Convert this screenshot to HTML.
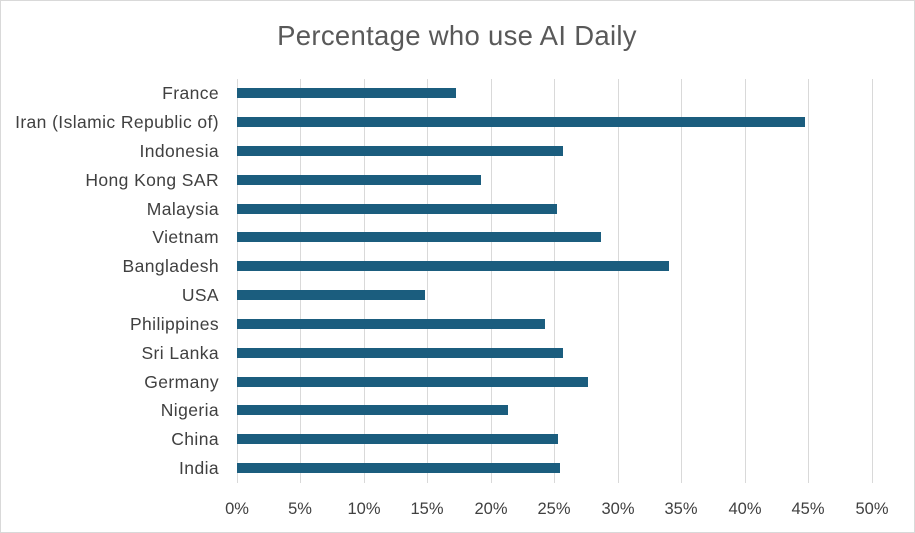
<!DOCTYPE html>
<html><head><style>
body{margin:0;background:#fff;}
svg{display:block;font-family:"Liberation Sans",Arial,sans-serif;}
</style></head><body>
<svg width="915" height="533" viewBox="0 0 915 533">
<rect x="0.5" y="0.5" width="914" height="532" fill="#fff" stroke="#d9d9d9"/>
<text x="457" y="45" text-anchor="middle" font-size="27.5" fill="#595959" letter-spacing="0.3">Percentage who use AI Daily</text>
<g stroke="#d9d9d9" stroke-width="1">
<line x1="300.5" y1="79" x2="300.5" y2="483"/>
<line x1="364.5" y1="79" x2="364.5" y2="483"/>
<line x1="427.5" y1="79" x2="427.5" y2="483"/>
<line x1="491.5" y1="79" x2="491.5" y2="483"/>
<line x1="554.5" y1="79" x2="554.5" y2="483"/>
<line x1="618.5" y1="79" x2="618.5" y2="483"/>
<line x1="681.5" y1="79" x2="681.5" y2="483"/>
<line x1="745.5" y1="79" x2="745.5" y2="483"/>
<line x1="808.5" y1="79" x2="808.5" y2="483"/>
<line x1="872.5" y1="79" x2="872.5" y2="483"/>
<line x1="237.5" y1="79" x2="237.5" y2="483"/>
</g>
<g fill="#1b5d7e">
<rect x="237" y="88" width="219" height="10"/>
<rect x="237" y="117" width="568" height="10"/>
<rect x="237" y="146" width="326" height="10"/>
<rect x="237" y="175" width="244" height="10"/>
<rect x="237" y="204" width="320" height="10"/>
<rect x="237" y="232" width="364" height="10"/>
<rect x="237" y="261" width="432" height="10"/>
<rect x="237" y="290" width="188" height="10"/>
<rect x="237" y="319" width="308" height="10"/>
<rect x="237" y="348" width="326" height="10"/>
<rect x="237" y="377" width="351" height="10"/>
<rect x="237" y="405" width="271" height="10"/>
<rect x="237" y="434" width="321" height="10"/>
<rect x="237" y="463" width="323" height="10"/>
</g>
<g font-size="17.5" fill="#404040" text-anchor="end" letter-spacing="0.4">
<text x="219" y="99">France</text>
<text x="219" y="128">Iran (Islamic Republic of)</text>
<text x="219" y="157">Indonesia</text>
<text x="219" y="186">Hong Kong SAR</text>
<text x="219" y="215">Malaysia</text>
<text x="219" y="243">Vietnam</text>
<text x="219" y="272">Bangladesh</text>
<text x="219" y="301">USA</text>
<text x="219" y="330">Philippines</text>
<text x="219" y="359">Sri Lanka</text>
<text x="219" y="388">Germany</text>
<text x="219" y="416">Nigeria</text>
<text x="219" y="445">China</text>
<text x="219" y="474">India</text>
</g>
<g font-size="16.5" fill="#404040" text-anchor="middle">
<text x="237" y="514">0%</text>
<text x="300" y="514">5%</text>
<text x="364" y="514">10%</text>
<text x="427" y="514">15%</text>
<text x="491" y="514">20%</text>
<text x="554" y="514">25%</text>
<text x="618" y="514">30%</text>
<text x="681" y="514">35%</text>
<text x="745" y="514">40%</text>
<text x="808" y="514">45%</text>
<text x="872" y="514">50%</text>
</g>
</svg>
</body></html>
